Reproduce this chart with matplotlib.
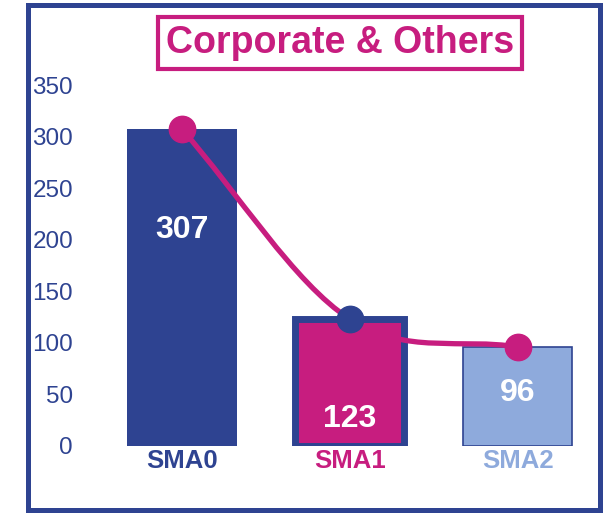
import numpy as np
import matplotlib
matplotlib.use("Agg")
import matplotlib.pyplot as plt
from matplotlib.path import Path
from matplotlib.patches import PathPatch, Rectangle

# data
categories = ["SMA0", "SMA1", "SMA2"]
values = [307, 123, 96]
yticks = [0, 50, 100, 150, 200, 250, 300, 350]

navy = "#2E4391"
magenta = "#C71D7F"
light = "#8EAADC"
bar_colors = [navy, magenta, light]
label_colors = [navy, magenta, light]
marker_colors = [magenta, navy, magenta]

plt.rcParams['font.family'] = ['Liberation Sans', 'DejaVu Sans']

W, H = 603, 514
fig = plt.figure(figsize=(W / 100, H / 100), dpi=100)

# axes placement in pixels
left, right, bottom, top = 80, 590, 446, 85
ax = fig.add_axes([left / W, (H - bottom) / H, (right - left) / W, (bottom - top) / H])

x = np.arange(len(categories))
bars = ax.bar(x, values, width=0.65, color=bar_colors, zorder=2)
bars[1].set_edgecolor(navy)
bars[1].set_linewidth(5)
bars[2].set_edgecolor(navy)
bars[2].set_linewidth(1.2)

# smoothed line (catmull-rom style bezier through the points)
pts = np.column_stack([x, values]).astype(float)
tang = np.zeros_like(pts)
tang[0] = pts[1] - pts[0]
tang[-1] = pts[-1] - pts[-2]
for i in range(1, len(pts) - 1):
    tang[i] = (pts[i + 1] - pts[i - 1]) / 2
verts = [pts[0]]
codes = [Path.MOVETO]
for i in range(len(pts) - 1):
    verts += [pts[i] + tang[i] / 3, pts[i + 1] - tang[i + 1] / 3, pts[i + 1]]
    codes += [Path.CURVE4] * 3
ax.add_patch(PathPatch(Path(verts, codes), facecolor="none", edgecolor=magenta,
                       lw=3.8, zorder=3, clip_on=False))
for xi, v, c in zip(x, values, marker_colors):
    ax.plot(xi, v, "o", ms=19, color=c, mec=c, zorder=4, clip_on=False)

# value labels
label_y = [209, 26, 51]
for xi, v, ly in zip(x, values, label_y):
    ax.text(xi, ly, str(v), ha="center", va="center", color="white",
            fontsize=23, fontweight="bold", zorder=5)

ax.set_xlim(-0.608, 2.432)
ax.set_ylim(0, 350)
ax.set_yticks(yticks)
ax.set_yticklabels([str(t) for t in yticks], fontsize=17.5, color=navy)
ax.set_xticks(x)
ax.set_xticklabels(categories, fontsize=18.5, fontweight="bold")
for lbl, c in zip(ax.get_xticklabels(), label_colors):
    lbl.set_color(c)
ax.tick_params(axis="both", length=0)
ax.tick_params(axis="y", pad=5)
ax.tick_params(axis="x", pad=2)
for s in ax.spines.values():
    s.set_visible(False)

# title in a box
fig.text(340 / W, 1 - 43 / H, "Corporate & Others", ha="center", va="center",
         fontsize=27, fontweight="bold", color=magenta,
         bbox=dict(boxstyle="square,pad=0.22", fc="white", ec=magenta, lw=3))

# outer frame
fig.patches.append(Rectangle((27.5 / W, 1 - 510 / H), (600 - 27.5) / W, (510 - 5) / H,
                             transform=fig.transFigure, fill=False, ec=navy, lw=3.6))

fig.savefig("out.png", dpi=100)
